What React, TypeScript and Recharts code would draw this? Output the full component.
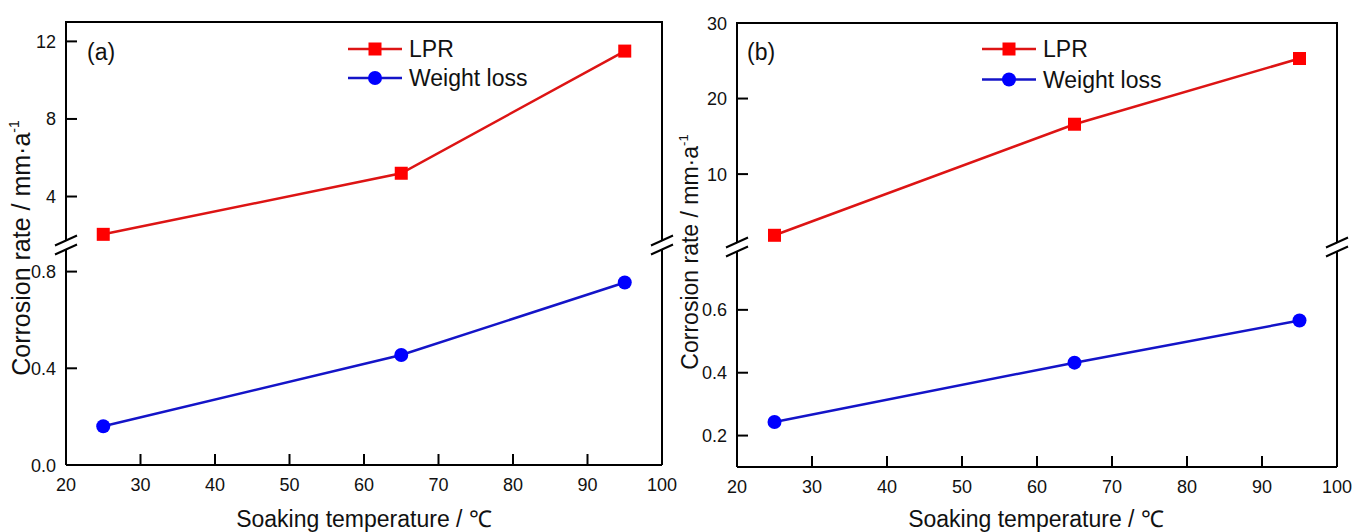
import React from 'react';
import { LineChart, Line, XAxis, YAxis, Legend } from 'recharts';

// ---- data ----
const temperatures = [25, 65, 95];
const lprA = [2.05, 5.2, 11.5];
const weightLossA = [0.16, 0.455, 0.755];
const lprB = [1.9, 16.6, 25.3];
const weightLossB = [0.243, 0.432, 0.566];

const xTicks = [20, 30, 40, 50, 60, 70, 80, 90, 100];
const topTicksA = [4, 8, 12];
const bottomTicksA = [0, 0.4, 0.8];
const topTicksB = [10, 20, 30];
const bottomTicksB = [0.2, 0.4, 0.6];

const seriesNames = ['LPR', 'Weight loss'];
const panelLabels = ['(a)', '(b)'];
const yLabel = 'Corrosion rate / mm·a';
const xLabel = 'Soaking temperature / ℃';

const build = (lpr: number[], wl: number[]) =>
  temperatures.map((t, i) => ({ t, lpr: lpr[i], wl: wl[i] }));

const dataA = build(lprA, weightLossA);
const dataB = build(lprB, weightLossB);

const FONT = '"Liberation Sans", Arial, Helvetica, sans-serif';
const RED_LINE = '#dd1414';
const RED_MARK = '#ff0000';
const BLUE_LINE = '#1414c8';
const BLUE_MARK = '#0000ff';
const TICK_FONT = 18;

const makeYTick = (fmt: (v: number) => string) => (props: any) => {
  const { x, y, payload } = props;
  return (
    <g>
      <line x1={x + 10} x2={x + 21} y1={y} y2={y} stroke="#000" strokeWidth={2} />
      <text x={x} y={y} dy={6.5} textAnchor="end" fontSize={TICK_FONT} fill="#111" fontFamily={FONT}>
        {fmt(payload.value)}
      </text>
    </g>
  );
};

const XTick = (props: any) => {
  const { x, y, payload } = props;
  return (
    <g>
      <line x1={x} x2={x} y1={y - 10} y2={y - 21} stroke="#000" strokeWidth={2} />
      <text x={x} y={y + 16} textAnchor="middle" fontSize={TICK_FONT} fill="#111" fontFamily={FONT}>
        {payload.value}
      </text>
    </g>
  );
};

const SquareDot = (p: any) => {
  if (p.cx == null || p.cy == null) return <g key={p.index} />;
  return <rect key={p.index} x={p.cx - 6.5} y={p.cy - 6.5} width={13} height={13} fill={RED_MARK} />;
};
const CircleDot = (p: any) => {
  if (p.cx == null || p.cy == null) return <g key={p.index} />;
  return <circle key={p.index} cx={p.cx} cy={p.cy} r={7} fill={BLUE_MARK} />;
};

const LegendBox = ({ gap }: { gap: number }) => (
  <svg width={240} height={70} style={{ display: 'block', overflow: 'visible' }}>
    <line x1={8} x2={62} y1={15} y2={15} stroke={RED_LINE} strokeWidth={2.5} />
    <rect x={28.5} y={8.5} width={13} height={13} fill={RED_MARK} />
    <text x={69} y={23} fontSize={23} fontFamily={FONT} fill="#111">{seriesNames[0]}</text>
    <line x1={8} x2={62} y1={15 + gap} y2={15 + gap} stroke={BLUE_LINE} strokeWidth={2.5} />
    <circle cx={35} cy={15 + gap} r={7} fill={BLUE_MARK} />
    <text x={69} y={23 + gap} fontSize={23} fontFamily={FONT} fill="#111">{seriesNames[1]}</text>
  </svg>
);

type PanelCfg = {
  left: number;
  width: number;
  yAxisWidth: number;
  marginRight: number;
  topMargin: number;
  split: number;
  bottomAxisY: number;
  data: any[];
  topDomain: [number, number];
  bottomDomain: [number, number];
  topTicks: number[];
  bottomTicks: number[];
  legendLeft: number;
  legendTop: number;
  legendGap: number;
};

const Panel = ({ cfg }: { cfg: PanelCfg }) => {
  const topHeight = cfg.split;
  const bottomHeight = 532 - cfg.split;
  const bottomPlot = cfg.bottomAxisY - cfg.split;
  return (
    <div style={{ position: 'absolute', left: cfg.left, top: 0, width: cfg.width, height: 532 }}>
      <div style={{ position: 'absolute', left: 0, top: 0 }}>
        <LineChart
          width={cfg.width}
          height={topHeight}
          data={cfg.data}
          margin={{ top: cfg.topMargin, right: cfg.marginRight, left: 0, bottom: 0 }}
        >
          <XAxis dataKey="t" type="number" domain={[20, 100]} hide />
          <YAxis
            type="number"
            domain={cfg.topDomain}
            ticks={cfg.topTicks}
            width={cfg.yAxisWidth}
            tickSize={0}
            tickMargin={10}
            tickLine={false}
            axisLine={{ stroke: '#000', strokeWidth: 2 }}
            tick={makeYTick((v) => String(v))}
            interval={0}
          />
          <Legend
            layout="vertical"
            align="center"
            verticalAlign="middle"
            wrapperStyle={{ left: cfg.legendLeft, top: cfg.legendTop, width: 240, height: 70 }}
            content={() => <LegendBox gap={cfg.legendGap} />}
          />
          <Line
            dataKey="lpr"
            stroke={RED_LINE}
            strokeWidth={2.5}
            dot={SquareDot}
            activeDot={false}
            isAnimationActive={false}
          />
        </LineChart>
      </div>
      <div style={{ position: 'absolute', left: 0, top: cfg.split }}>
        <LineChart
          width={cfg.width}
          height={bottomHeight}
          data={cfg.data}
          margin={{ top: 0, right: cfg.marginRight, left: 0, bottom: bottomHeight - bottomPlot - 30 }}
        >
          <XAxis
            dataKey="t"
            type="number"
            domain={[20, 100]}
            ticks={xTicks}
            height={30}
            tickSize={0}
            tickMargin={10}
            tickLine={false}
            axisLine={{ stroke: '#000', strokeWidth: 2 }}
            tick={XTick}
            interval={0}
          />
          <YAxis
            type="number"
            domain={cfg.bottomDomain}
            ticks={cfg.bottomTicks}
            width={cfg.yAxisWidth}
            tickSize={0}
            tickMargin={10}
            tickLine={false}
            axisLine={{ stroke: '#000', strokeWidth: 2 }}
            tick={makeYTick((v) => v.toFixed(1))}
            interval={0}
          />
          <Line
            dataKey="wl"
            stroke={BLUE_LINE}
            strokeWidth={2.5}
            dot={CircleDot}
            activeDot={false}
            isAnimationActive={false}
          />
        </LineChart>
      </div>
    </div>
  );
};

const panelA: PanelCfg = {
  left: 0,
  width: 680,
  yAxisWidth: 66,
  marginRight: 18,
  topMargin: 22,
  split: 245,
  bottomAxisY: 465,
  data: dataA,
  topDomain: [1.5, 13],
  bottomDomain: [0, 0.91],
  topTicks: topTicksA,
  bottomTicks: bottomTicksA,
  legendLeft: 340,
  legendTop: 34,
  legendGap: 29,
};

const panelB: PanelCfg = {
  left: 670,
  width: 684,
  yAxisWidth: 67,
  marginRight: 17,
  topMargin: 23,
  split: 247,
  bottomAxisY: 467,
  data: dataB,
  topDomain: [0.35, 30],
  bottomDomain: [0.1, 0.8],
  topTicks: topTicksB,
  bottomTicks: bottomTicksB,
  legendLeft: 304,
  legendTop: 34,
  legendGap: 30.5,
};

const BreakMark = ({ x, y }: { x: number; y: number }) => (
  <g>
    <polygon points={`${x - 11},${y + 1} ${x + 11},${y - 9} ${x + 11},${y - 1} ${x - 11},${y + 9}`} fill="#fff" />
    <line x1={x - 11} y1={y + 0.5} x2={x + 11} y2={y - 9.5} stroke="#000" strokeWidth={2} />
    <line x1={x - 11} y1={y + 9.5} x2={x + 11} y2={y - 0.5} stroke="#000" strokeWidth={2} />
  </g>
);

const Overlay = () => (
  <svg
    width={1354}
    height={532}
    style={{ position: 'absolute', left: 0, top: 0, pointerEvents: 'none' }}
  >
    <line x1={65} x2={663} y1={22} y2={22} stroke="#000" strokeWidth={2} />
    <line x1={662} x2={662} y1={22} y2={465} stroke="#000" strokeWidth={2} />
    <BreakMark x={66} y={245} />
    <BreakMark x={662} y={245} />
    <line x1={736} x2={1338} y1={23} y2={23} stroke="#000" strokeWidth={2} />
    <line x1={1337} x2={1337} y1={23} y2={467} stroke="#000" strokeWidth={2} />
    <BreakMark x={737} y={247} />
    <BreakMark x={1337} y={247} />

    <text x={87} y={60} fontSize={23} fontFamily={FONT} fill="#111">{panelLabels[0]}</text>
    <text x={747} y={60} fontSize={23} fontFamily={FONT} fill="#111">{panelLabels[1]}</text>

    <text x={30} y={248} transform="rotate(-90 30 248)" textAnchor="middle" fontSize={25} fontFamily={FONT} fill="#111">
      {yLabel}
      <tspan dy={-11} fontSize={14}>-1</tspan>
    </text>
    <text x={698} y={252} transform="rotate(-90 698 252)" textAnchor="middle" fontSize={23} fontFamily={FONT} fill="#111">
      {yLabel}
      <tspan dy={-10} fontSize={13}>-1</tspan>
    </text>

    <text x={364} y={526.5} textAnchor="middle" fontSize={23} fontFamily={FONT} fill="#111">{xLabel}</text>
    <text x={1036} y={526.5} textAnchor="middle" fontSize={23} fontFamily={FONT} fill="#111">{xLabel}</text>
  </svg>
);

export default function App() {
  return (
    <div
      style={{
        position: 'absolute',
        left: 0,
        top: 0,
        width: 1354,
        height: 532,
        background: '#fff',
        fontFamily: FONT,
        overflow: 'hidden',
      }}
    >
      <Panel cfg={panelA} />
      <Panel cfg={panelB} />
      <Overlay />
    </div>
  );
}
